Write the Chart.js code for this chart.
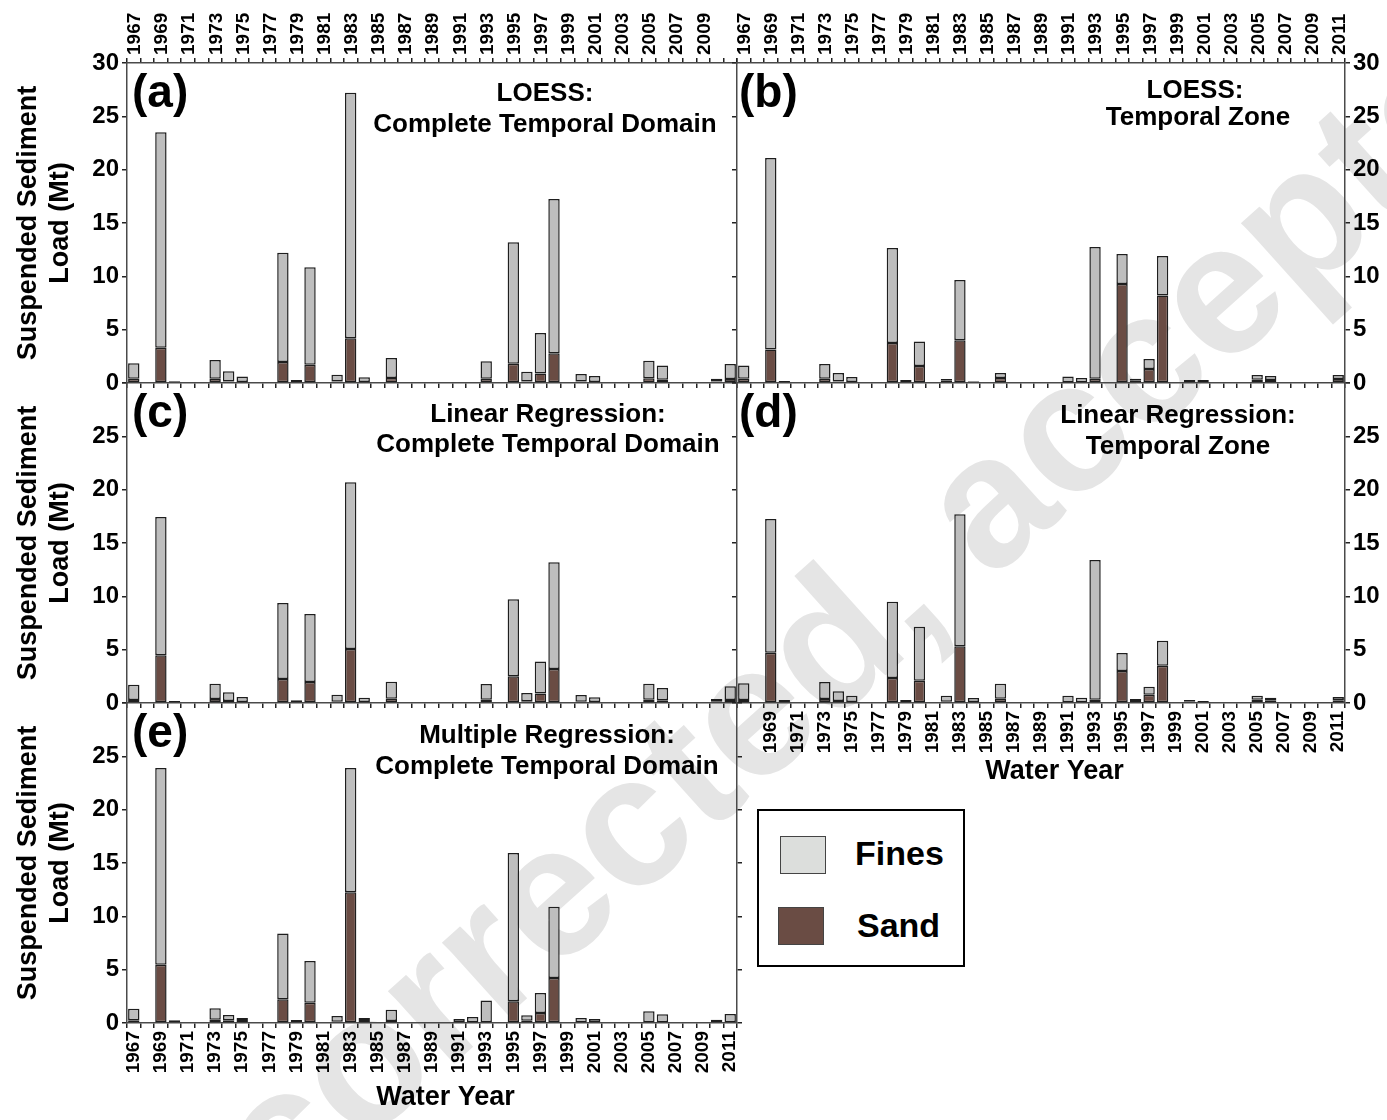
<!DOCTYPE html>
<html>
<head>
<meta charset="utf-8">
<script src="https://cdn.jsdelivr.net/npm/chart.js@4.4.0/dist/chart.umd.min.js"></script>
<style>
  html, body { margin: 0; padding: 0; background: #fff; }
  #page { position: relative; width: 1387px; height: 1120px; overflow: hidden; background: #fff;
          font-family: "Liberation Sans", Arial, Helvetica, sans-serif; }
  #page canvas { position: absolute; left: 0; top: 0; }
  #mark { position: absolute; left: 0; top: 0; transform-origin: 0 0; white-space: nowrap;
          font-size: 186px; font-weight: bold; line-height: 1; color: #e5e5e5; }
  #legend { position: absolute; left: 757px; top: 809px; width: 204px; height: 154px; border: 2px solid #000; background: #fff; }
  #legend .sw { position: absolute; width: 44px; height: 36px; border: 1px solid #444; }
  #legend .lb { position: absolute; font-size: 34px; font-weight: bold; line-height: 34px; color: #000; }
</style>
</head>
<body>
<div id="page">
  <div id="mark">Uncorrected, accepted</div>
  <canvas id="pa" width="1387" height="1120"></canvas>
  <canvas id="pb" width="1387" height="1120"></canvas>
  <canvas id="pc" width="1387" height="1120"></canvas>
  <canvas id="pd" width="1387" height="1120"></canvas>
  <canvas id="pe" width="1387" height="1120"></canvas>
  <div id="legend"></div>
</div>
<script>
// water years on the x axis
const years = ['1967','1968','1969','1970','1971','1972','1973','1974','1975','1976',
               '1977','1978','1979','1980','1981','1982','1983','1984','1985','1986',
               '1987','1988','1989','1990','1991','1992','1993','1994','1995','1996',
               '1997','1998','1999','2000','2001','2002','2003','2004','2005','2006',
               '2007','2008','2009','2010','2011'];
const yTicks = [0, 5, 10, 15, 20, 25, 30];

// (a) LOESS, complete temporal domain (Mt)
const sandA  = [0.40,0,3.30,0,0, 0,0.40,0.15,0.10,0, 0,1.97,0,1.72,0, 0.15,4.19,0.10,0,0.47,
                0,0,0,0,0, 0,0.40,0,1.81,0.15, 0.88,2.78,0,0.15,0.10, 0,0,0,0.44,0.30, 0,0,0,0.15,0.38];
const finesA = [1.44,0,20.20,0.16,0, 0,1.76,0.95,0.50,0, 0,10.23,0.28,9.12,0.06, 0.63,23.01,0.43,0,1.87,
                0,0,0,0,0.06, 0.06,1.63,0,11.39,0.91, 3.81,14.47,0,0.69,0.56, 0,0,0,1.65,1.33, 0,0.06,0,0.25,1.40];
// (b) LOESS, temporal zone
const sandB  = [0.40,0,3.13,0,0, 0,0.40,0.15,0.10,0, 0,3.75,0,1.60,0, 0.25,4.00,0.15,0,0.47,
                0,0,0,0,0.05, 0,0.40,0,9.28,0.25, 1.31,8.20,0,0.10,0.10, 0,0,0,0.30,0.28, 0,0,0,0,0.38];
const finesB = [1.23,0,17.97,0.19,0, 0,1.38,0.79,0.46,0, 0,8.91,0.28,2.30,0, 0.12,5.66,0.04,0,0.47,
                0,0,0,0,0.57, 0.47,12.35,0,2.82,0.15, 0.94,3.70,0,0.18,0.18, 0,0,0,0.45,0.38, 0,0,0,0.10,0.37];
// (c) linear regression, complete temporal domain
const sandC  = [0.28,0,4.47,0,0, 0,0.38,0.19,0.10,0, 0,2.25,0,1.97,0, 0.12,5.06,0.10,0,0.40,
                0,0,0,0,0, 0,0.31,0,2.50,0.16, 0.88,3.19,0,0.12,0.10, 0,0,0,0.31,0.25, 0,0,0,0.12,0.28];
const finesC = [1.44,0,12.97,0.19,0, 0,1.43,0.81,0.46,0, 0,7.13,0.25,6.37,0.06, 0.66,15.64,0.40,0,1.60,
                0,0,0,0,0.06, 0,1.47,0,7.22,0.78, 3.02,10.01,0,0.63,0.43, 0,0,0,1.50,1.15, 0,0.06,0,0.26,1.28];
// (d) linear regression, temporal zone
const sandD  = [0.28,0,4.72,0,0, 0,0.38,0.19,0.10,0, 0,2.34,0,2.09,0, 0.12,5.31,0.10,0,0.40,
                0,0,0,0,0, 0,0.31,0,3.00,0.19, 0.78,3.50,0,0.12,0.10, 0,0,0,0.31,0.25, 0,0,0,0,0.25];
const finesD = [1.56,0,12.53,0.28,0, 0,1.59,0.91,0.59,0, 0,7.16,0.28,5.07,0.06, 0.57,12.39,0.37,0,1.41,
                0,0,0,0,0.69, 0.50,13.09,0,1.69,0.19, 0.75,2.34,0,0.16,0.09, 0,0,0,0.38,0.25, 0,0,0,0.10,0.31];
// (e) multiple regression, complete temporal domain
const sandE  = [0.25,0,5.47,0,0, 0,0.31,0.25,0.19,0, 0,2.22,0,1.91,0, 0.12,12.25,0.19,0,0.19,
                0,0,0,0,0, 0,0,0,2.03,0.22, 0.94,4.22,0,0,0, 0,0,0,0,0, 0,0.06,0,0,0];
const finesE = [1.09,0,18.43,0.25,0, 0,1.07,0.50,0.28,0, 0,6.18,0.28,3.90,0.06, 0.54,11.65,0.28,0,1.06,
                0,0,0,0,0.38, 0.56,2.10,0,13.91,0.50, 1.87,6.68,0,0.47,0.38, 0,0,0,1.10,0.81, 0,0,0,0.31,0.84];

const FONT = '"Liberation Sans", Arial, Helvetica, sans-serif';
const SAND = '#6a4c44', FINES = '#bebebe', FINES_KEY = '#dcdedc', EDGE = '#1e1e1e';
const W = 1387, H = 1120;

// panel text: letter tag + method title
const panelText = {
  id: 'panelText',
  afterDraw(chart, args, o) {
    const { ctx, chartArea: ca } = chart;
    ctx.save();
    ctx.fillStyle = '#000';
    ctx.textBaseline = 'middle';
    ctx.textAlign = 'left';
    ctx.font = 'bold 46px ' + FONT;
    ctx.fillText(o.tag, ca.left + o.tagX, ca.top + 31);
    ctx.textAlign = 'center';
    ctx.font = 'bold 26px ' + FONT;
    o.lines.forEach((s, i) => ctx.fillText(s, ca.left + o.tx[i], ca.top + o.ty[i]));
    ctx.restore();
  }
};

function fixSize(px, horiz) {
  return s => {
    if (horiz) s.height = px; else s.width = px;
    s.paddingLeft = s.paddingRight = s.paddingTop = s.paddingBottom = 0;
  };
}

const gridOpts = { drawOnChartArea: false, drawTicks: true, tickLength: 5, color: '#222', lineWidth: 1.5 };
const borderOpts = { display: true, color: '#4a4a4a', width: 1.5 };

function yAxis(pos, o) {
  return {
    type: 'linear', position: pos, min: 0, max: 30, stacked: true,
    afterBuildTicks: s => { s.ticks = yTicks.map(v => ({ value: v })); },
    ticks: {
      display: !!o.labels, color: '#000', padding: 3,
      font: { family: FONT, size: 24, weight: 'bold' },
      callback: v => (o.hideTop && v === 30) ? '' : String(v)
    },
    grid: Object.assign({}, gridOpts, { drawTicks: o.ticks !== false }),
    border: borderOpts,
    title: o.title ? {
      display: true, text: ['Suspended Sediment', 'Load (Mt)'], color: '#000',
      font: { family: FONT, size: 27, weight: 'bold', lineHeight: 1.2 },
      padding: { top: 12, bottom: 0 }
    } : { display: false },
    afterFit: fixSize(o.size, false)
  };
}

function xAxis(pos, o) {
  return {
    type: 'category', position: pos, offset: true, stacked: true,
    ticks: {
      display: !!o.show, autoSkip: false, maxRotation: 90, minRotation: 90, padding: 3, color: '#000',
      labelOffset: pos === 'top' ? 24 : 0,
      font: { family: FONT, size: 19, weight: 'bold' },
      callback: (v, i) => (o.show && o.show(i)) ? years[i] : ''
    },
    grid: Object.assign({}, gridOpts, { offset: true }),
    border: borderOpts,
    title: o.title ? {
      display: true, text: '\u2003Water Year', color: '#000',
      font: { family: FONT, size: 27, weight: 'bold', lineHeight: 1.2 },
      padding: { top: 0, bottom: o.titlePad }
    } : { display: false },
    afterFit: fixSize(o.size, true)
  };
}

function panel(id, sand, fines, box, ax, txt) {
  const [L, T, R, B] = box;
  const scales = {};
  const sz = { left: 0, right: 0, top: 0, bottom: 0 };
  if (ax.bottom) { scales.x = xAxis('bottom', ax.bottom); sz.bottom = ax.bottom.size; }
  if (ax.top) { scales.x2 = xAxis('top', ax.top); sz.top = ax.top.size; }
  if (ax.left) { scales.y = yAxis('left', ax.left); sz.left = ax.left.size; }
  if (ax.right) { scales.y2 = yAxis('right', ax.right); sz.right = ax.right.size; }
  const ds = (label, vals, color) => ({
    label, data: vals.map(v => v > 0 ? v : null), backgroundColor: color,
    borderColor: EDGE, borderWidth: 1.5, borderSkipped: false,
    barPercentage: 0.84, categoryPercentage: 1, stack: 'load',
    xAxisID: 'x', yAxisID: scales.y ? 'y' : 'y2'
  });
  return new Chart(document.getElementById(id), {
    type: 'bar',
    data: { labels: years, datasets: [ds('Sand', sand, SAND), ds('Fines', fines, FINES)] },
    options: {
      responsive: false, animation: false, events: [],
      layout: { padding: { left: L - sz.left, right: W - R - sz.right, top: T - sz.top, bottom: H - B - sz.bottom } },
      scales,
      plugins: { legend: { display: false }, tooltip: { enabled: false }, panelText: txt }
    },
    plugins: [panelText]
  });
}

const odd = i => i % 2 === 0;

panel('pa', sandA, finesA, [127, 63, 737, 383], {
  top: { size: 63, show: i => odd(i) && i !== 44 },
  bottom: { size: 5 },
  left: { size: 127, labels: true, title: true }
}, { tag: '(a)', tagX: 5, lines: ['LOESS:', 'Complete Temporal Domain'], tx: [418, 418], ty: [31, 62] });

panel('pb', sandB, finesB, [737, 63, 1345, 383], {
  top: { size: 63, show: odd },
  bottom: { size: 5 },
  left: { size: 5 },
  right: { size: 42, labels: true }
}, { tag: '(b)', tagX: 2, lines: ['LOESS:', 'Temporal Zone'], tx: [458, 461], ty: [28, 55] });

panel('pc', sandC, finesC, [127, 383, 737, 703], {
  bottom: { size: 5 },
  left: { size: 127, labels: true, title: true, hideTop: true }
}, { tag: '(c)', tagX: 5, lines: ['Linear Regression:', 'Complete Temporal Domain'], tx: [421, 421], ty: [32, 62] });

panel('pd', sandD, finesD, [737, 383, 1345, 703], {
  bottom: { size: 95, show: i => odd(i) && i !== 0, title: true, titlePad: 10 },
  left: { size: 5 },
  right: { size: 42, labels: true, hideTop: true }
}, { tag: '(d)', tagX: 2, lines: ['Linear Regression:', 'Temporal Zone'], tx: [441, 441], ty: [33, 64] });

panel('pe', sandE, finesE, [127, 703, 737, 1023], {
  bottom: { size: 97, show: odd, title: true, titlePad: 6 },
  left: { size: 127, labels: true, title: true, hideTop: true },
  right: { size: 5 }
}, { tag: '(e)', tagX: 5, lines: ['Multiple Regression:', 'Complete Temporal Domain'], tx: [420, 420], ty: [33, 64] });

// legend box, built from the series names and colours
const legend = document.getElementById('legend');
[{ name: 'Fines', color: FINES_KEY, sx: 21, sy: 25, lx: 96, ly: 25 },
 { name: 'Sand', color: SAND, sx: 19, sy: 96, lx: 98, ly: 97 }].forEach(k => {
  const sw = document.createElement('div');
  sw.className = 'sw';
  sw.style.cssText = `left:${k.sx}px;top:${k.sy}px;background:${k.color}`;
  const lb = document.createElement('div');
  lb.className = 'lb';
  lb.style.cssText = `left:${k.lx}px;top:${k.ly}px`;
  lb.textContent = k.name;
  legend.appendChild(sw);
  legend.appendChild(lb);
});

// faint diagonal watermark behind the charts
document.getElementById('mark').style.transform = 'translate(-6px, 1267px) rotate(-42deg)';
</script>
</body>
</html>
